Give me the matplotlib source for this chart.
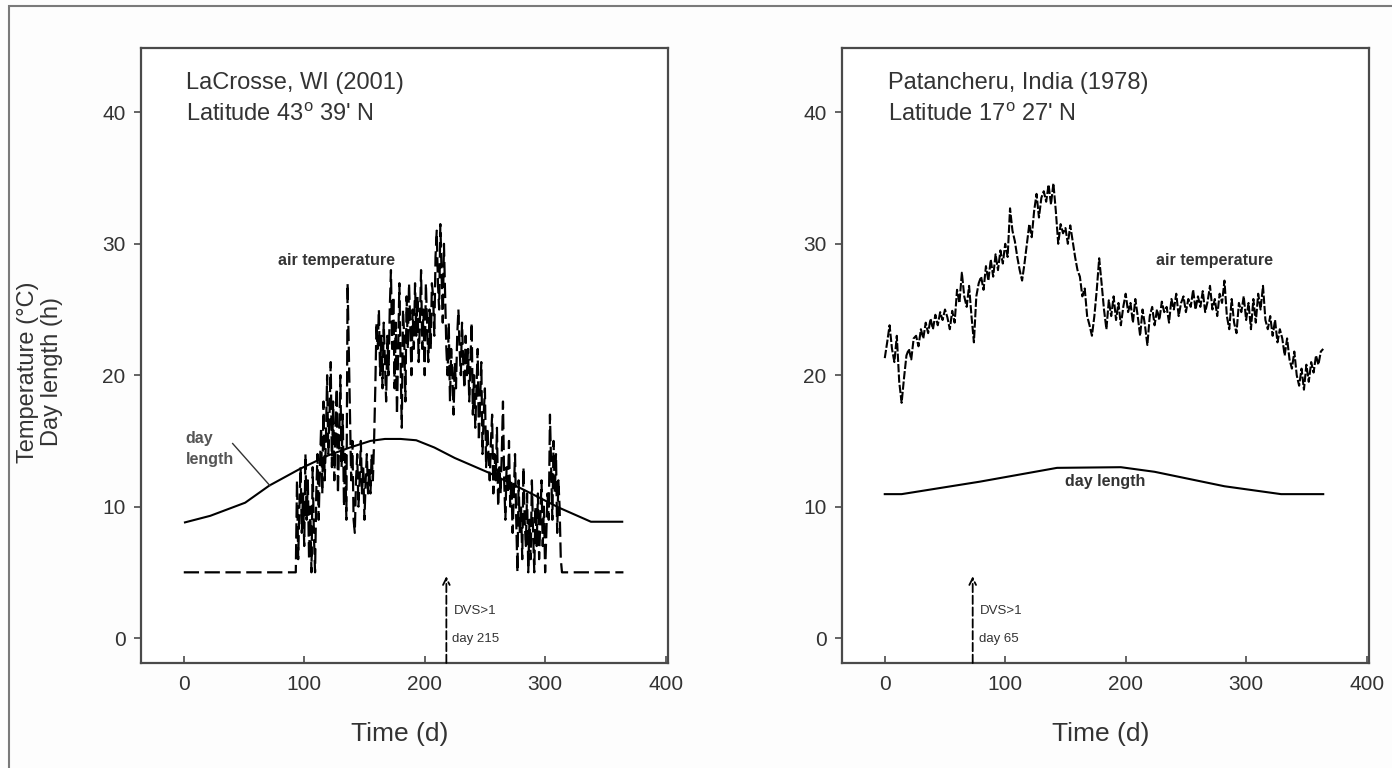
import matplotlib
matplotlib.use("Agg")
import matplotlib.pyplot as plt
from matplotlib.patches import Rectangle

plt.rcParams['font.family'] = ['Liberation Sans', 'DejaVu Sans']
plt.rcParams['mathtext.fontset'] = 'custom'
plt.rcParams['mathtext.rm'] = 'Liberation Sans'
plt.rcParams['mathtext.it'] = 'Liberation Sans:italic'
plt.rcParams['lines.scale_dashes'] = False

# ---------------- data ----------------
x_ticks = [0, 100, 200, 300, 400]
y_ticks = [0, 10, 20, 30, 40]

# LaCrosse, WI (2001)
lac_title = ["LaCrosse, WI (2001)", "Latitude 43$^{\\mathrm{o}}$ 39' N"]
lac_len_days = [1, 22, 51, 71, 97, 120, 138, 155, 167, 180, 193, 208, 225, 254, 283, 312, 338, 364]
lac_len = [8.8, 9.3, 10.3, 11.6, 12.9, 13.9, 14.5, 15.0, 15.15, 15.15, 15.05, 14.5, 13.7, 12.55, 11.25, 9.9, 8.85, 8.85]

lac_temp_days = [0, 93] + list(range(94, 316)) + [316, 365]
lac_temp = [5, 5] + [
    12, 6, 10, 13, 8, 11, 7, 14, 9, 12,
    6, 10, 5, 13, 8, 5, 11, 14, 9, 13,
    16, 11, 18, 12, 15, 20, 14, 17, 21, 13,
    18, 12, 16, 19, 11, 15, 20, 13, 17, 10,
    14, 9, 27, 22, 17, 12, 15, 9, 8, 12,
    14, 10, 12, 15, 11, 13, 9, 12, 14, 11,
    13, 11, 14, 12, 15, 19, 24, 22, 25, 20,
    23, 19, 24, 21, 18, 23, 20, 25, 28, 22,
    26, 19, 24, 17, 22, 27, 21, 16, 25, 23,
    18, 26, 22, 27, 24, 20, 25, 22, 27, 23,
    26, 21, 24, 28, 22, 25, 20, 27, 24, 21,
    25, 22, 27, 26, 23, 29, 31, 27, 25, 31.5,
    28, 24, 30, 26, 22, 20, 24, 18, 22, 20,
    17, 21, 19, 23, 25, 22, 20, 24, 21, 19,
    23, 20, 22, 18, 21, 24, 17, 20, 16, 19,
    22, 15, 18, 21, 14, 17, 19, 13, 16, 14,
    12, 15, 17, 11, 14, 12, 16, 10, 13, 11,
    14, 18, 12, 9, 13, 11, 15, 10, 12, 8,
    11, 14, 9, 5, 12, 8, 10, 6, 13, 9,
    7, 11, 5, 9, 6, 12, 8, 5, 10, 7,
    11, 6, 9, 12, 7, 10, 5, 8, 11, 9,
    17, 13, 9, 15, 11, 14, 8, 12, 10, 6,
    5, 5] + [5, 5]
lac_dvs_day = 218
lac_dvs_label = ["DVS>1", "day 215"]

# Patancheru, India (1978)
pat_title = ["Patancheru, India (1978)", "Latitude 17$^{\\mathrm{o}}$ 27' N"]
pat_len_days = [0, 14, 79, 143, 196, 224, 282, 329, 364]
pat_len = [10.95, 10.95, 11.9, 12.95, 13.0, 12.65, 11.55, 10.95, 10.95]

pat_temp_days = list(range(0, 365, 2))
pat_temp = [
    21.3, 22.5, 23.8, 22.0, 21.0, 23.0, 19.5, 17.9, 19.8, 21.5,
    22.0, 21.2, 22.8, 23.0, 22.2, 23.5, 22.8, 24.0, 23.2, 24.3,
    23.5, 24.6, 23.8, 24.8, 24.2, 25.0, 24.4, 23.5, 24.9, 24.0,
    26.5, 25.5, 27.8, 26.0, 25.2, 26.8, 24.5, 22.5, 26.0, 27.0,
    27.5, 26.5, 28.3, 27.2, 28.8, 27.5, 29.2, 28.0, 29.5, 28.5,
    30.0, 29.0, 32.7, 31.0, 30.2, 29.0, 28.0, 27.2, 28.5, 30.0,
    31.5, 30.5, 32.5, 33.8, 32.0, 33.5, 34.0, 33.2, 34.5, 33.0,
    34.6, 32.5, 30.0, 31.5, 30.8, 31.2, 30.0, 31.4, 30.2, 29.0,
    28.0, 27.5, 26.0, 26.6, 24.5, 23.8, 23.0, 24.5, 26.5, 28.9,
    27.0, 25.0, 23.5, 25.7, 24.5, 26.0, 24.2, 25.5, 23.8, 25.2,
    26.2, 24.8, 25.5, 24.0, 25.8, 24.5, 23.0, 25.0, 23.8, 22.3,
    24.5, 25.2, 23.8, 25.0, 24.2, 25.6, 24.8, 25.2, 24.0, 25.8,
    25.0, 26.2, 24.5, 25.5, 26.0, 24.8, 25.8, 25.2, 26.5, 25.0,
    26.0, 25.2, 26.4, 24.8, 25.6, 26.8, 25.0, 25.8, 24.5, 26.2,
    25.5, 27.2, 24.5, 23.5, 25.8, 24.0, 23.2, 25.5, 24.8, 26.0,
    24.2, 25.5, 23.5, 25.8, 24.0, 26.2, 25.0, 26.8, 24.2, 23.5,
    24.5, 23.0, 24.2, 22.5, 23.5, 22.8, 21.5, 22.8, 21.2, 20.5,
    21.8, 20.0, 19.2, 20.5, 18.9, 20.8, 19.5, 21.0, 20.2, 21.5,
    20.8, 21.8, 22.0]
pat_dvs_day = 73
pat_dvs_label = ["DVS>1", "day 65"]

# ---------------- figure ----------------
W, H = 1392, 768
fig = plt.figure(figsize=(W / 100, H / 100), dpi=100)
fig.patch.set_facecolor('#fdfdfd')

# outer frame
fig.patches.append(Rectangle((9 / W, -0.05), 1.2, 1.05 - 6 / H, transform=fig.transFigure,
                             fill=False, edgecolor='#7a7a7a', linewidth=1.5))

ax_l = fig.add_axes([141 / W, 1 - 663 / H, 527 / W, 615 / H])
ax_r = fig.add_axes([842 / W, 1 - 663 / H, 527 / W, 615 / H])

spine_col = '#4a4a4a'
text_col = '#333333'


def style(ax):
    ax.set_xlim(-35.5, 402)
    ax.set_ylim(-1.9, 44.9)
    ax.set_xticks(x_ticks)
    ax.set_yticks(y_ticks)
    ax.set_facecolor('white')
    for s in ax.spines.values():
        s.set_color(spine_col)
        s.set_linewidth(1.6)
    ax.tick_params(axis='x', direction='in', length=5, width=1.2, color=spine_col,
                   labelsize=15, labelcolor=text_col, pad=9)
    ax.tick_params(axis='y', direction='out', length=5, width=1.2, color=spine_col,
                   labelsize=15, labelcolor=text_col, pad=6)
    ax.text(0.49, -0.115, "Time (d)", transform=ax.transAxes, ha='center', va='center',
            fontsize=19, color=text_col)


def dvs(ax, day, labels):
    ax.annotate('', xy=(day, 4.7), xytext=(day, -1.9),
                arrowprops=dict(arrowstyle='->', color='black', lw=1.3,
                                linestyle=(0, (6, 2.5)), shrinkA=0, shrinkB=0,
                                mutation_scale=12))
    ax.text(day + 6, 2.05, labels[0], fontsize=9.5, color=text_col, ha='left', va='center')
    ax.text(day + 5, -0.1, labels[1], fontsize=9.5, color=text_col, ha='left', va='center')


style(ax_l)
style(ax_r)

# left panel
ax_l.plot(lac_temp_days, lac_temp, color='black', lw=1.6, ls=(0, (11, 4)))
ax_l.plot(lac_len_days, lac_len, color='black', lw=1.5)
ax_l.text(1.5, 42.2, lac_title[0], fontsize=17, color=text_col, ha='left', va='center')
ax_l.text(1.5, 39.8, lac_title[1], fontsize=17, color=text_col, ha='left', va='center')
ax_l.text(127, 28.7, "air temperature", fontsize=11.5, fontweight='bold', color=text_col,
          ha='center', va='center')
ax_l.text(1.5, 15.15, "day", fontsize=11.5, fontweight='bold', color='#555555', ha='left', va='center')
ax_l.text(1.5, 13.6, "length", fontsize=11.5, fontweight='bold', color='#555555', ha='left', va='center')
ax_l.plot([40.6, 71.5], [14.8, 11.6], color='#333333', lw=1.0)
dvs(ax_l, lac_dvs_day, lac_dvs_label)

# right panel
ax_r.plot(pat_temp_days, pat_temp, color='black', lw=1.5, ls=(0, (6, 1.5)))
ax_r.plot(pat_len_days, pat_len, color='black', lw=1.5)
ax_r.text(2.3, 42.2, pat_title[0], fontsize=17, color=text_col, ha='left', va='center')
ax_r.text(2.3, 39.8, pat_title[1], fontsize=17, color=text_col, ha='left', va='center')
ax_r.text(274, 28.7, "air temperature", fontsize=11.5, fontweight='bold', color=text_col,
          ha='center', va='center')
ax_r.text(183, 11.9, "day length", fontsize=11.5, fontweight='bold', color=text_col,
          ha='center', va='center')
dvs(ax_r, pat_dvs_day, pat_dvs_label)

# shared y label
fig.text(40 / W, 1 - 372 / H, "Temperature (°C)\nDay length (h)", rotation=90,
         ha='center', va='center', multialignment='center', fontsize=17,
         color=text_col, linespacing=1.1)

fig.savefig("out.png", dpi=100, facecolor=fig.get_facecolor())
